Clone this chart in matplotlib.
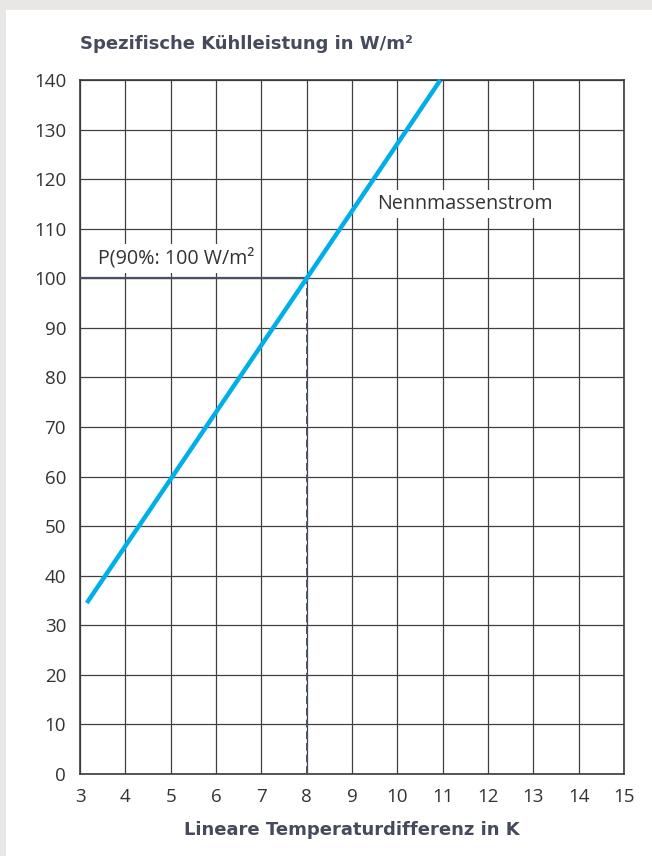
import matplotlib.pyplot as plt
import numpy as np

# Kennlinie (Nennmassenstrom)
temp_diff = [3.15, 8.0, 10.95]
leistung = [34.5, 100.0, 140.0]

x_ticks = list(range(3, 16))
y_ticks = list(range(0, 141, 10))

p90_x = 8
p90_y = 100

plt.rcParams['font.family'] = ['Open Sans', 'DejaVu Sans']

fig = plt.figure(figsize=(6.52, 8.56), dpi=100)
fig.patch.set_facecolor('#e8e7e5')
# weisse Flaeche
fig.add_artist(plt.Rectangle((6 / 652, 0), 1, 1 - 10 / 856, transform=fig.transFigure,
                             facecolor='white', edgecolor='none', zorder=0))

ax = fig.add_axes([80 / 652, 1 - 774 / 856, 544 / 652, 694 / 856])
ax.set_facecolor('white')
ax.set_xlim(3, 15)
ax.set_ylim(0, 140)
ax.set_xticks(x_ticks)
ax.set_yticks(y_ticks)
ax.grid(True, color='#404040', linewidth=0.9)
ax.set_axisbelow(True)
for s in ax.spines.values():
    s.set_color('#3a3a3a')
    s.set_linewidth(1.2)
ax.tick_params(length=0, labelsize=13.5, colors='#333333', pad=10)

# Hilfslinien P(90%)
ax.plot([3, p90_x], [p90_y, p90_y], color='#4a5162', linewidth=1.6, zorder=3)
ax.plot([p90_x, p90_x], [0, p90_y], color='#4a5162', linewidth=1.4,
        linestyle=(0, (4, 2)), zorder=3)

ax.plot(temp_diff, leistung, color='#00aeea', linewidth=3.2,
        solid_capstyle='butt', zorder=4, clip_on=False)

ax.text(3.4, 104.0, 'P(90%: 100 W/m²', fontsize=14.2, color='#333333', va='center',
        bbox=dict(facecolor='white', edgecolor='none', pad=3), zorder=5)
ax.text(9.55, 115.0, 'Nennmassenstrom', fontsize=14.2, color='#333333', va='center',
        bbox=dict(facecolor='white', edgecolor='none', pad=3), zorder=5)

fig.text(80 / 652, 1 - 44 / 856, 'Spezifische Kühlleistung in W/m²', fontsize=13,
         family='DejaVu Sans', fontweight='bold', color='#454b5c', va='center')
fig.text(352 / 652, 1 - 830 / 856, 'Lineare Temperaturdifferenz in K', fontsize=13,
         family='DejaVu Sans', fontweight='bold', color='#454b5c', va='center', ha='center')

fig.savefig('out.png', dpi=100, facecolor=fig.get_facecolor())
